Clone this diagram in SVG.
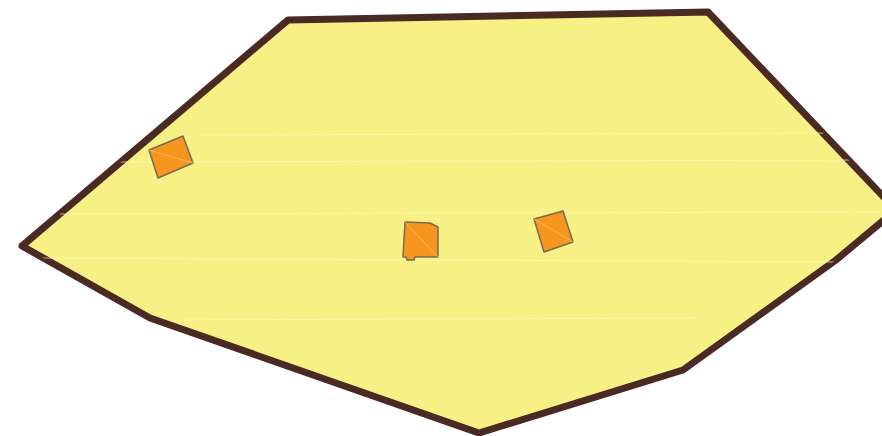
<svg xmlns="http://www.w3.org/2000/svg" width="882" height="436" viewBox="0 0 882 436">
<style>
.zone{fill:#f7f084;stroke:#4a2a22;stroke-width:7;stroke-linejoin:round}
.sq{fill:#f7961e;stroke:#7a6a50;stroke-width:1.5;stroke-linejoin:round}
.hatch{stroke:#fdf7b8;stroke-width:1;opacity:0.7}
</style>
<defs>
<clipPath id="zc"><polygon points="22,246 288,20 708,12 896,210 836,260 683,370 479,433 150,318"/></clipPath>
</defs>
<rect width="882" height="436" fill="#ffffff"/>
<g id="zone">
<polygon class="zone" points="22,246 288,20 708,12 896,210 836,260 683,370 479,433 150,318"/>
<g class="hatch" clip-path="url(#zc)">
<line x1="200" y1="135" x2="860" y2="133"/>
<line x1="120" y1="162" x2="870" y2="160"/>
<line x1="60" y1="214" x2="880" y2="212"/>
<line x1="40" y1="258" x2="840" y2="262"/>
<line x1="180" y1="320" x2="700" y2="318"/>
</g>
</g>
<g id="node1">
<polygon class="sq" points="149,150 183,136 193,163 158,178"/>
<line x1="149" y1="150" x2="193" y2="163" stroke="#fbb45a" stroke-width="1"/>
</g>
<g id="node2">
<polygon class="sq" points="405,222 430,223 438,227 438,257 415,257 414,260 407,260 406,257 403,257"/>
<line x1="405" y1="222" x2="438" y2="257" stroke="#fbb45a" stroke-width="1"/>
</g>
<g id="node3">
<polygon class="sq" points="534,219 563,211 573,242 544,252"/>
<line x1="534" y1="219" x2="573" y2="242" stroke="#fbb45a" stroke-width="1"/>
</g>
</svg>
